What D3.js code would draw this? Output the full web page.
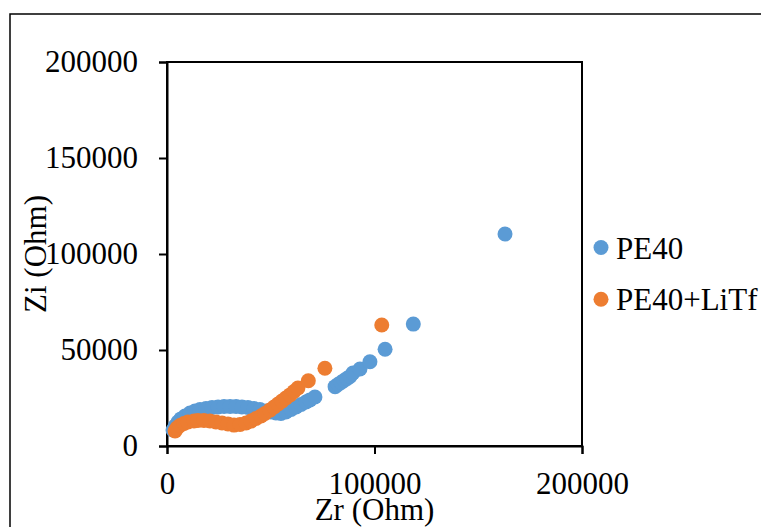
<!DOCTYPE html>
<html>
<head>
<meta charset="utf-8">
<script src="https://cdn.jsdelivr.net/npm/d3@7"></script>
<style>
  body { margin: 0; background: #fff; }
  svg { display: block; }
  text { font-family: "Liberation Serif", "Times New Roman", serif; fill: #000; }
</style>
</head>
<body>
<svg id="chart" width="761" height="527"></svg>
<script>
// values (Zr, Zi in Ohm)
const pe40Zr = [2900, 3900, 5300, 6700, 8700, 11100, 13500, 15900, 18800, 21700,
    24600, 27500, 30400, 33300, 36100, 39000, 41900, 44800, 47700, 50100,
    52500, 54900, 57300, 59800, 62200, 64600, 67000, 68900, 71300, 81000,
    82400, 83900, 85300, 86800, 88200, 89600, 93000, 97800, 105100, 118700, 162900]
const pe40Zi = [8300, 10400, 12500, 14100, 15600, 17200, 18200, 19000, 19500, 20100,
    20300, 20600, 20600, 20600, 20300, 20100, 19500, 19000, 18200, 17700,
    17200, 16900, 17700, 19000, 20300, 21600, 22900, 24000, 25500, 30900,
    32000, 33100, 34100, 35200, 36200, 38000, 40100, 43900, 50400, 63500, 110400]

const liZr = [3900, 4800, 6300, 8200, 10100, 13000, 14900, 17800, 20700, 23600,
    26500, 29400, 32300, 35200, 38100, 40500, 42900, 45300, 47200, 49600,
    51600, 53500, 55400, 57300, 59300, 61200, 63100, 68100, 76100, 103500]
const liZi = [7800, 9400, 10700, 11700, 12500, 13000, 13300, 13300, 13000, 12500,
    12000, 11500, 10900, 11200, 12000, 13000, 14300, 15600, 16900, 18700,
    20300, 21900, 23400, 25000, 26600, 28400, 30200, 34000, 40500, 63000]

const seriesNames = ["PE40", "PE40+LiTf"]
const seriesColors = ["#5B9BD5", "#ED7D31"]
const xTicks = [0, 100000, 200000]
const yTicks = [0, 50000, 100000, 150000, 200000]

const svg = d3.select("#chart")
const plot = { left: 167, right: 582, top: 62, bottom: 446 }
const fontSize = 31
const r = 7.5

// chart outer border (cut by the window on right/bottom)
svg.append("rect")
    .attr("x", 10).attr("y", 14)
    .attr("width", 800).attr("height", 600)
    .attr("fill", "#fff")
    .attr("stroke", "#000")
    .attr("stroke-width", 1.5)

const x = d3.scaleLinear().domain([0, 200000]).range([plot.left, plot.right])
const y = d3.scaleLinear().domain([0, 200000]).range([plot.bottom, plot.top])

// plot area box
svg.append("rect")
    .attr("x", plot.left).attr("y", plot.top)
    .attr("width", plot.right - plot.left)
    .attr("height", plot.bottom - plot.top)
    .attr("fill", "none")
    .attr("stroke", "#000")
    .attr("stroke-width", 2)

const xAxis = svg.append("g")
    .attr("transform", `translate(0,${plot.bottom})`)
    .call(d3.axisBottom(x).tickValues(xTicks).tickFormat(d3.format("d")).tickSize(8).tickPadding(18))
const yAxis = svg.append("g")
    .attr("transform", `translate(${plot.left},0)`)
    .call(d3.axisLeft(y).tickValues(yTicks).tickFormat(d3.format("d")).tickSize(8).tickPadding(21))

for (const ax of [xAxis, yAxis]) {
    ax.select(".domain").attr("stroke", "#000").attr("stroke-width", 2)
    ax.selectAll(".tick line").attr("stroke", "#000").attr("stroke-width", 2)
    ax.selectAll(".tick text")
        .attr("font-family", "Liberation Serif, Times New Roman, serif")
        .attr("font-size", fontSize)
        .attr("fill", "#000")
}

// axis titles
svg.append("text")
    .attr("x", (plot.left + plot.right) / 2)
    .attr("y", 520)
    .attr("text-anchor", "middle")
    .attr("font-size", fontSize)
    .text("Zr (Ohm)")

svg.append("text")
    .attr("transform", `translate(46,${(plot.top + plot.bottom) / 2}) rotate(-90)`)
    .attr("text-anchor", "middle")
    .attr("font-size", fontSize)
    .text("Zi (Ohm)")

// points
const series = [
    d3.zip(pe40Zr, pe40Zi),
    d3.zip(liZr, liZi)
]
series.forEach((pts, i) => {
    svg.append("g")
        .selectAll("circle")
        .data(pts)
        .join("circle")
        .attr("cx", d => x(d[0]))
        .attr("cy", d => y(d[1]))
        .attr("r", r)
        .attr("fill", seriesColors[i])
})

// legend
const legend = svg.append("g")
    .selectAll("g")
    .data(seriesNames)
    .join("g")
    .attr("transform", (d, i) => `translate(601,${247.5 + i * 51.7})`)
legend.append("circle")
    .attr("r", r)
    .attr("fill", (d, i) => seriesColors[i])
legend.append("text")
    .attr("x", 15)
    .attr("y", 11)
    .attr("font-size", fontSize)
    .text(d => d)
</script>
</body>
</html>
